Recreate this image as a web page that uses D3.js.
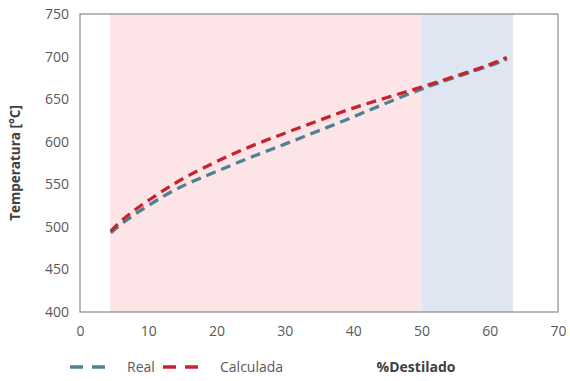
<!DOCTYPE html>
<html>
<head>
<meta charset="utf-8">
<script src="https://cdn.jsdelivr.net/npm/d3@7"></script>
<style>
  body { margin: 0; background: #fff; }
  text { font-family: "Open Sans", "Liberation Sans", sans-serif; }
</style>
</head>
<body>
<svg id="chart"></svg>
<script>
const w = 570;
const h = 381;
const margin = {top: 14, right: 12, bottom: 69, left: 80};

// datos
const destilado = [4.5, 6, 8, 10, 13, 16, 20, 25, 30, 35, 40, 45, 50, 55, 60, 62.5];
const real      = [493, 503, 515, 525, 540, 552, 565, 582, 597, 613, 629, 646, 662, 676, 689, 697];
const calculada = [495, 507, 520, 531, 547, 561, 577, 595, 610, 625, 640, 652, 664, 677, 690, 699];
const zonas = [
  {desde: 4.4, hasta: 50, color: '#fde4e7'},
  {desde: 50, hasta: 63.4, color: '#dfe6f1'}
];
const ticksX = [0, 10, 20, 30, 40, 50, 60, 70];
const ticksY = [400, 450, 500, 550, 600, 650, 700, 750];

const svg = d3.select('#chart').attr('width', w).attr('height', h);

const escalaX = d3.scaleLinear().domain([0, 70]).range([margin.left, w - margin.right]);
const escalaY = d3.scaleLinear().domain([400, 750]).range([h - margin.bottom, margin.top]);

svg.selectAll('rect.zona')
  .data(zonas)
  .enter()
  .append('rect')
  .attr('class', 'zona')
  .attr('x', d => escalaX(d.desde))
  .attr('width', d => escalaX(d.hasta) - escalaX(d.desde))
  .attr('y', escalaY(750))
  .attr('height', escalaY(400) - escalaY(750))
  .style('fill', d => d.color);

// borde del area de trazado
svg.append('rect')
  .attr('x', escalaX(0))
  .attr('y', escalaY(750))
  .attr('width', escalaX(70) - escalaX(0))
  .attr('height', escalaY(400) - escalaY(750))
  .style('fill', 'none')
  .style('stroke', '#8a8a8a')
  .style('stroke-width', 1.2);

const linea = d3.line()
  .x((d, i) => escalaX(destilado[i]))
  .y(d => escalaY(d))
  .curve(d3.curveBasis);

const series = [
  {nombre: 'Real', valores: real, color: '#4f8290'},
  {nombre: 'Calculada', valores: calculada, color: '#c8232c'}
];

series.forEach(s => {
  svg.append('path')
    .attr('d', linea(s.valores))
    .style('fill', 'none')
    .style('stroke', s.color)
    .style('stroke-width', 3.3)
    .style('stroke-dasharray', '10,6');
});

const ejeX = d3.axisBottom(escalaX).tickValues(ticksX).tickSize(0).tickPadding(14);
const ejeY = d3.axisLeft(escalaY).tickValues(ticksY).tickSize(0).tickPadding(11);

const gx = svg.append('g')
  .attr('transform', 'translate(0,' + (h - margin.bottom) + ')')
  .call(ejeX);
const gy = svg.append('g')
  .attr('transform', 'translate(' + margin.left + ',0)')
  .call(ejeY);

[gx, gy].forEach(g => {
  g.select('.domain').remove();
  g.selectAll('text')
    .style('font-family', '"Open Sans", sans-serif')
    .style('font-size', '14px')
    .style('fill', '#595959');
});

svg.append('text')
  .attr('transform', 'translate(20,' + ((margin.top + h - margin.bottom) / 2) + ') rotate(-90)')
  .attr('text-anchor', 'middle')
  .style('font-size', '13.5px')
  .style('font-weight', 'bold')
  .style('fill', '#404040')
  .text('Temperatura [°C]');

svg.append('text')
  .attr('x', 416)
  .attr('y', 372)
  .attr('text-anchor', 'middle')
  .style('font-size', '14px')
  .style('font-weight', 'bold')
  .style('fill', '#404040')
  .text('%Destilado');

// leyenda
const leyenda = svg.append('g').attr('transform', 'translate(70,367)');
const posLeyenda = [0, 93];
series.forEach((s, i) => {
  const g = leyenda.append('g').attr('transform', 'translate(' + posLeyenda[i] + ',0)');
  g.append('line')
    .attr('x1', 0).attr('x2', 40)
    .attr('y1', 0).attr('y2', 0)
    .style('stroke', s.color)
    .style('stroke-width', 3.5)
    .style('stroke-dasharray', '13,9');
  g.append('text')
    .attr('x', 57)
    .attr('y', 5)
    .style('font-size', '14px')
    .style('fill', '#595959')
    .text(s.nombre);
});
</script>
</body>
</html>
